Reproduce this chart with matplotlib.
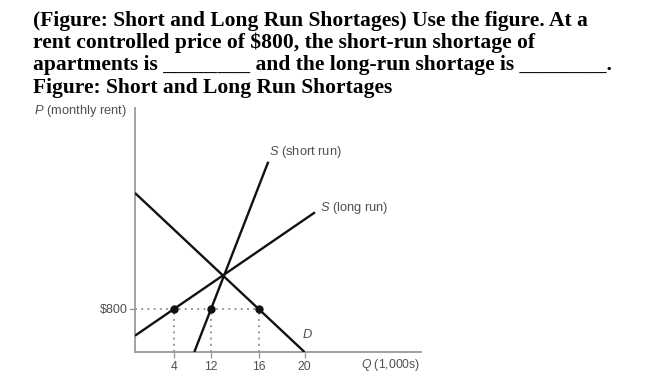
import numpy as np
from matplotlib import pyplot as plt

plt.rcParams['mathtext.fontset'] = 'custom'
plt.rcParams['mathtext.it'] = 'Liberation Sans:italic'

# question text
question_lines = [
    "(Figure: Short and Long Run Shortages) Use the figure. At a",
    "rent controlled price of $800, the short-run shortage of",
    "apartments is ________ and the long-run shortage is ________.",
    "Figure: Short and Long Run Shortages",
]

# schematic diagram units (drawing is not to scale)
demand_q = [0, 169.5]
demand_p = [159, 0]
sr_supply_q = [59.3, 133.3]
sr_supply_p = [0, 190.3]
lr_supply_q = [0, 180]
lr_supply_p = [16.3, 139.7]
rent_ceiling = 43
price_label = "$800"
q_tick_labels = ["4", "12", "16", "20"]

# quantities where each curve meets the ceiling
q_lr = np.interp(rent_ceiling, lr_supply_p, lr_supply_q)
q_sr = np.interp(rent_ceiling, sr_supply_p, sr_supply_q)
q_d = np.interp(rent_ceiling, demand_p[::-1], demand_q[::-1])
q_ticks = [q_lr, q_sr, q_d, demand_q[1]]

fig = plt.figure(figsize=(6.5, 3.78), dpi=100)

for i, line in enumerate(question_lines):
    fig.text(33/650, 1-(26+22.2*i)/378, line, family='Liberation Serif', weight='bold',
             size=15.5, ha='left', va='baseline')

ax = fig.add_axes([135/650, 26/378, 286/650, 244/378])
ax.set_xlim(0, 286); ax.set_ylim(0, 244)
for s in ['top', 'right']:
    ax.spines[s].set_visible(False)
for s in ['left', 'bottom']:
    ax.spines[s].set_color('#9a9a9a'); ax.spines[s].set_linewidth(1.3)

grey = '#505050'
ax.set_xticks(q_ticks)
ax.set_xticklabels(q_tick_labels, family='Liberation Sans', size=8.8, color=grey)
ax.set_yticks([rent_ceiling])
ax.set_yticklabels([price_label], family='Liberation Sans', size=9, color=grey)
ax.tick_params(axis='both', length=4, width=1, color='#9a9a9a', pad=2.5)
ax.tick_params(axis='y', pad=1.5)

dot = dict(color='#9a9a9a', lw=1.4, ls=(0, (1, 2.2)), zorder=1)
ax.plot([0, q_d], [rent_ceiling, rent_ceiling], **dot)
for q in [q_lr, q_sr, q_d]:
    ax.plot([q, q], [0, rent_ceiling], **dot)

ax.plot(demand_q, demand_p, color='#111111', lw=1.7, solid_capstyle='butt', zorder=3)
ax.plot(sr_supply_q, sr_supply_p, color='#111111', lw=1.7, solid_capstyle='butt', zorder=3)
ax.plot(lr_supply_q, lr_supply_p, color='#111111', lw=1.7, solid_capstyle='butt', zorder=3)
ax.plot([q_lr, q_sr, q_d], [rent_ceiling]*3, 'o', color='#111111', ms=5, zorder=4)

lab = dict(family='Liberation Sans', size=9.3, color=grey, va='center')
ax.text(134, 200, "$S$ (short run)", ha='left', **lab)
ax.text(185, 144, "$S$ (long run)", ha='left', **lab)
ax.text(172, 18, "$D$", ha='center', **lab)
fig.text(127/650, 1-111/378, "$P$ (monthly rent)", ha='right', **lab)
fig.text(420/650, 1-365/378, "$Q$ (1,000s)", ha='right', **dict(lab, size=8.8))

plt.savefig('out.png', dpi=100)
